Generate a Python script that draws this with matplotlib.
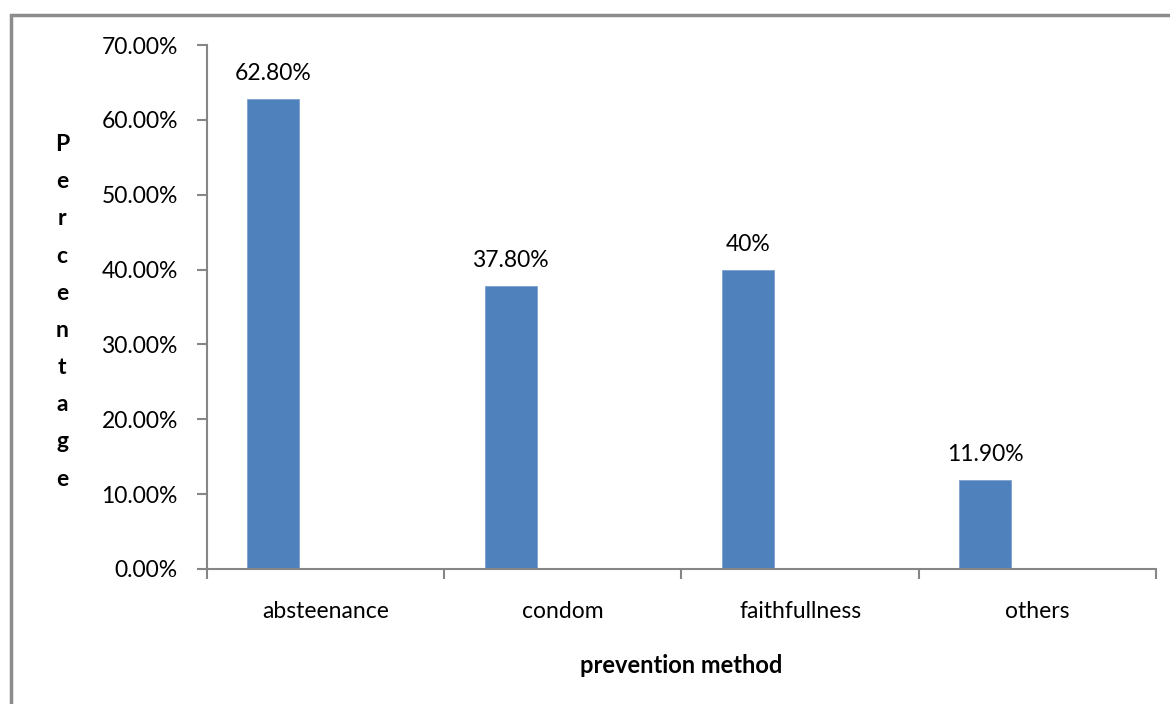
import matplotlib.pyplot as plt
import matplotlib.patches as patches
from matplotlib.ticker import FixedLocator, FuncFormatter

methods = ["absteenance", "condom", "faithfullness", "others"]
percent = [62.8, 37.8, 40.0, 11.9]
value_labels = ["62.80%", "37.80%", "40%", "11.90%"]

plt.rcParams['font.family'] = ['Lato', 'DejaVu Sans']
grey = '#868686'
fs = 16.5

fig = plt.figure(figsize=(11.7, 7.04), dpi=100)
ax = fig.add_axes([0.1769, 0.1918, 0.988 - 0.1769, 0.936 - 0.1918])

# bars sit left of the category centre, like an excel clustered column
x = [i - 0.22 for i in range(len(methods))]
bars = ax.bar(x, percent, width=0.22, color='#4F81BD', edgecolor='#7FA1CF', linewidth=0.6)
for b, lab in zip(bars, value_labels):
    ax.annotate(lab, (b.get_x() + b.get_width() / 2, b.get_height()),
                xytext=(0, 10.5), textcoords='offset points', ha='center', va='bottom', fontsize=fs)

ax.set_xlim(-0.5, len(methods) - 0.5)
ax.set_ylim(0, 70)
ax.set_yticks(range(0, 71, 10))
ax.yaxis.set_major_formatter(FuncFormatter(lambda v, p: f"{v:.2f}%"))
ax.set_xticks(range(len(methods)))
ax.set_xticklabels(methods)
ax.xaxis.set_minor_locator(FixedLocator([i - 0.5 for i in range(len(methods) + 1)]))

ax.tick_params(axis='x', which='major', length=0, pad=23, labelsize=fs)
ax.tick_params(axis='x', which='minor', length=7, color=grey, width=1.5)
ax.tick_params(axis='y', length=7, color=grey, width=1.5, pad=14, labelsize=fs)

for side in ['top', 'right']:
    ax.spines[side].set_visible(False)
for side in ['left', 'bottom']:
    ax.spines[side].set_color(grey)
    ax.spines[side].set_linewidth(1.5)

ax.set_xlabel("prevention method", fontsize=17, fontweight='bold', labelpad=23)
fig.text(0.053, 0.557, "\n".join("Percentage"), ha='center', va='center',
         fontsize=fs, fontweight='bold', linespacing=1.95)

# chart frame
frame = patches.Rectangle((0.0092, -0.2), 1.2, 0.978 + 0.2, transform=fig.transFigure,
                          fill=False, edgecolor='#8c8c8c', linewidth=2.5, clip_on=False)
fig.patches.append(frame)

fig.savefig("out.png", dpi=100, facecolor='white')
